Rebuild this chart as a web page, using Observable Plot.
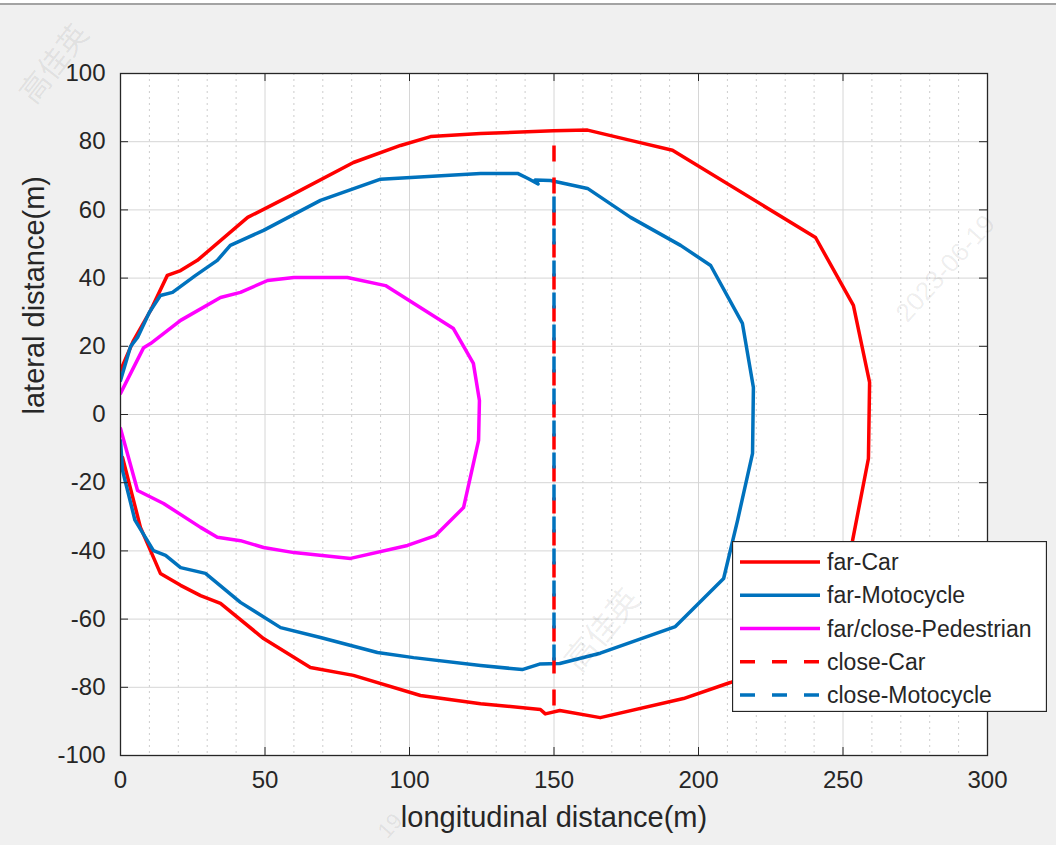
<!DOCTYPE html>
<html><head><meta charset="utf-8">
<script src="https://cdn.jsdelivr.net/npm/d3@7"></script>
<script src="https://cdn.jsdelivr.net/npm/@observablehq/plot@0.6"></script>
<style>
html,body{margin:0;padding:0;}
body{width:1056px;height:845px;overflow:hidden;background:#f0f0f0;position:relative;font-family:"Liberation Sans",Arial,sans-serif;}
#topbar{height:3px;background:#ffffff;border-bottom:2px solid #a3a3a3;}
#chart svg{display:block;}
.wm{position:absolute;color:rgba(0,0,0,0.08);white-space:nowrap;pointer-events:none;transform-origin:center center;}
#legend{position:absolute;left:732px;top:541px;}
</style></head><body>
<div id="topbar"></div>
<div id="chart"></div>
<div id="legend"></div>
<script>
// ---- data ----
const xTicks = [0, 50, 100, 150, 200, 250, 300];
const xMinor = [10,20,30,40,60,70,80,90,110,120,130,140,160,170,180,190,210,220,230,240,260,270,280,290];
const yTicks = [-100, -80, -60, -40, -20, 0, 20, 40, 60, 80, 100];

const farCar = [[0,12.9],[4.5,21.7],[10.4,30.5],[16.2,40.8],[20.8,42.2],[26.6,45.2],[44,57.8],[58.8,64.2],[80.6,73.9],[96.9,78.9],[107.3,81.5],[124.6,82.4],[149.8,83.2],[161.6,83.4],[176.5,80.4],[191,77.5],[240.5,51.9],[253.6,32],[259.2,9.4],[258.8,-12.9],[253.3,-37],[246,-58],[232,-72],[211,-78.6],[194.8,-83.3],[166,-88.9],[152,-86.8],[147,-87.8],[145.3,-86.5],[124.6,-84.8],[103.8,-82.4],[80.6,-76.5],[65.7,-74.2],[49.5,-65.7],[34.6,-55.4],[27.7,-53.1],[20.8,-50.1],[13.8,-46.6],[6.9,-33.1],[0.7,-12.6]];
const farMoto = [[0,10],[3.5,20],[5.9,22.6],[10,30],[13.8,34.9],[18,35.8],[26,40.8],[33.5,45.2],[38,49.6],[49.5,54],[69.2,62.8],[90,69],[112.5,70.1],[124.6,70.7],[137.4,70.7],[141,69.2],[144.5,67.6],[143.5,68.8],[148.8,68.6],[161.6,66.3],[176.5,57.8],[193.8,49.6],[204.2,43.7],[215.2,26.7],[219,7.9],[218.7,-11.4],[213.5,-31.1],[208.7,-48.1],[192,-62.2],[166,-70],[152,-73],[145,-73.2],[139,-74.8],[124.6,-73.6],[101.4,-71.3],[88.9,-69.8],[69.2,-65.4],[55.4,-62.5],[41.5,-55.1],[29.4,-46.6],[20.8,-44.9],[15.6,-41.3],[11.4,-39.9],[5,-31],[0.7,-16.4],[0,-7.6]];
const pedestrian = [[0,6.2],[8,19.6],[10.4,20.8],[20.8,27.6],[34.6,34.3],[41.5,35.8],[50.9,39.3],[60,40.2],[78.5,40.2],[91.7,37.8],[115.2,25.2],[122.1,15],[124.2,4.1],[123.9,-7.6],[118.7,-27.3],[109,-35.5],[99.3,-38.4],[79.6,-42.2],[60,-40.5],[49.5,-39],[41.5,-37],[33.5,-36],[27.7,-33.1],[14.9,-26.1],[5.9,-22.3],[0,-4.1]];
const closeCar = [[150,78.9],[150,-88]];
const closeMoto = [[150,68.6],[150,-73.5]];

const legendLabels = ["far-Car","far-Motocycle","far/close-Pedestrian","close-Car","close-Motocycle"];
const legendColors = ["#ff0000","#0072bd","#ff00ff","#ff0000","#0072bd"];
const legendDash = [null,null,null,"15,17","15,17"];

const toRows = pts => pts.map(([x, y]) => ({x, y}));
const ink = "#262626";
const lineW = 3.5;

const chart = Plot.plot({
  width: 1056, height: 840,
  marginTop: 68, marginBottom: 90, marginLeft: 120, marginRight: 69,
  style: {background: "transparent", fontFamily: "'Liberation Sans', Arial, sans-serif", overflow: "visible", color: ink},
  x: {domain: [0, 300]},
  y: {domain: [-100, 100]},
  marks: [
    Plot.frame({fill: "white"}),
    Plot.ruleX(xMinor, {stroke: "#cdcdcd", strokeDasharray: "2,4"}),
    Plot.ruleX(xTicks, {stroke: "#d6d6d6"}),
    Plot.ruleY(yTicks, {stroke: "#d6d6d6"}),
    Plot.line(toRows(farCar), {x: "x", y: "y", stroke: "#ff0000", strokeWidth: lineW, clip: true}),
    Plot.line(toRows(farMoto), {x: "x", y: "y", stroke: "#0072bd", strokeWidth: lineW, clip: true}),
    Plot.line(toRows(pedestrian), {x: "x", y: "y", stroke: "#ff00ff", strokeWidth: lineW, clip: true}),
    Plot.line(toRows(closeCar), {x: "x", y: "y", stroke: "#ff0000", strokeWidth: lineW, strokeDasharray: "16,16", strokeLinecap: "butt"}),
    Plot.line(toRows(closeMoto), {x: "x", y: "y", stroke: "#0072bd", strokeWidth: lineW, strokeDasharray: "16,16", strokeDashoffset: 16, strokeLinecap: "butt"}),
    Plot.frame({stroke: ink, strokeWidth: 1.3}),
    Plot.tickX(xTicks, {x: d => d, insetTop: 674, stroke: ink}),
    Plot.tickX(xTicks, {x: d => d, insetBottom: 674, stroke: ink}),
    Plot.tickY(yTicks, {y: d => d, insetRight: 859, stroke: ink}),
    Plot.tickY(yTicks, {y: d => d, insetLeft: 859, stroke: ink}),
    Plot.axisX(xTicks, {tickSize: 0, tickPadding: 15, fontSize: 24, label: null, tickFormat: d => String(d), color: ink}),
    Plot.axisY(yTicks, {tickSize: 0, tickPadding: 15, fontSize: 24, label: null, tickFormat: d => String(d), color: ink}),
    Plot.text(["longitudinal distance(m)"], {text: d => d, frameAnchor: "bottom", dy: 71, fontSize: 29, fill: ink}),
    Plot.text(["lateral distance(m)"], {text: d => d, frameAnchor: "left", dx: -86, rotate: -90, fontSize: 29, fill: ink})
  ]
});
document.getElementById("chart").append(chart);

// legend (inside the axes, lower right)
const lw = 315, lh = 171, rowH = 33.25, row0 = 21;
const lsvg = d3.select("#legend").append("svg").attr("width", lw).attr("height", lh)
  .style("display", "block");
lsvg.append("rect").attr("x", 0.5).attr("y", 0.5).attr("width", lw - 1).attr("height", lh - 1)
  .attr("fill", "white").attr("stroke", ink).attr("stroke-width", 1.3);
legendLabels.forEach((lab, i) => {
  const cy = row0 + rowH * i;
  lsvg.append("line").attr("x1", 8).attr("x2", 88).attr("y1", cy).attr("y2", cy)
    .attr("stroke", legendColors[i]).attr("stroke-width", lineW)
    .attr("stroke-dasharray", legendDash[i]);
  lsvg.append("text").attr("x", 95).attr("y", cy).attr("dy", "0.35em")
    .attr("font-size", 23).attr("fill", ink)
    .attr("font-family", "'Liberation Sans', Arial, sans-serif").text(lab);
});

// faint watermarks
const marks = [
  {t: "高佳英", x: 52, y: 62, r: -52, s: 30},
  {t: "高佳英", x: 600, y: 628, r: -50, s: 32},
  {t: "2023-06-19", x: 945, y: 268, r: -48, s: 26},
  {t: "19", x: 390, y: 826, r: -48, s: 22}
];
marks.forEach(m => {
  const d = document.createElement("div");
  d.className = "wm";
  d.textContent = m.t;
  d.style.fontSize = m.s + "px";
  d.style.fontFamily = m.t.match(/\d/) ? "'Liberation Sans', Arial, sans-serif" : "'Noto Sans CJK SC', sans-serif";
  document.body.append(d);
  const w = d.offsetWidth, h = d.offsetHeight;
  d.style.left = (m.x - w / 2) + "px";
  d.style.top = (m.y - h / 2) + "px";
  d.style.transform = `rotate(${m.r}deg)`;
});
</script>
</body></html>
